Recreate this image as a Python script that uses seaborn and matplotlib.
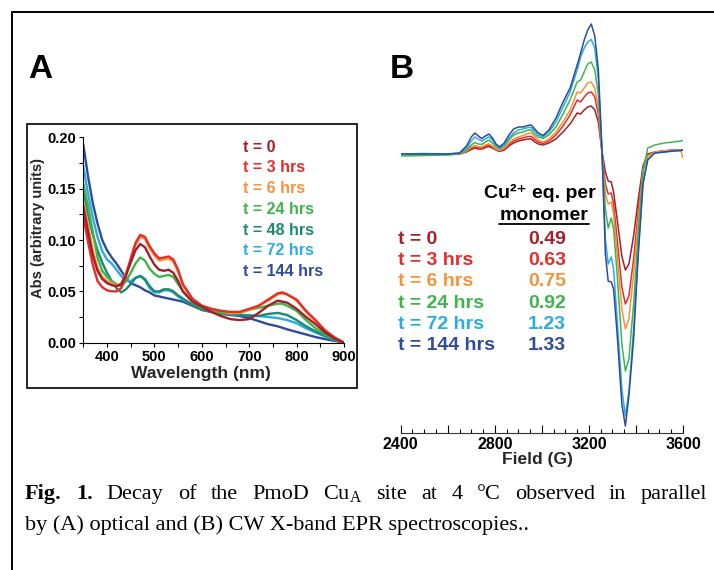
import matplotlib
matplotlib.use("Agg")
import numpy as np
import pandas as pd
import matplotlib.pyplot as plt
import seaborn as sns
from matplotlib.lines import Line2D
from matplotlib.patches import Rectangle
from matplotlib.ticker import MultipleLocator, FormatStrFormatter

# ---- panel A : optical spectra ----
wavelength = [350, 360, 370, 380, 390, 400, 410, 420, 430, 440, 450, 460, 470, 480, 490,
              500, 510, 520, 530, 540, 550, 560, 580, 600, 620, 640, 660, 680, 700, 720,
              740, 760, 770, 780, 800, 820, 840, 860, 880, 900]

abs_0 = [0.133, 0.108, 0.085, 0.070, 0.062, 0.058, 0.056, 0.055, 0.057, 0.066, 0.078, 0.090, 0.096, 0.093, 0.084,
         0.076, 0.071, 0.070, 0.071, 0.068, 0.060, 0.050, 0.040, 0.035, 0.030, 0.026, 0.023, 0.022, 0.023, 0.029,
         0.036, 0.041, 0.040, 0.039, 0.033, 0.025, 0.018, 0.010, 0.004, 0.0]
abs_3 = [0.124, 0.098, 0.076, 0.060, 0.054, 0.051, 0.050, 0.050, 0.053, 0.065, 0.082, 0.097, 0.105, 0.103, 0.094,
         0.087, 0.082, 0.083, 0.084, 0.081, 0.071, 0.057, 0.043, 0.036, 0.033, 0.031, 0.030, 0.030, 0.033, 0.036,
         0.042, 0.048, 0.049, 0.047, 0.042, 0.031, 0.022, 0.012, 0.005, 0.0]
abs_6 = [0.137, 0.114, 0.090, 0.073, 0.064, 0.060, 0.058, 0.056, 0.057, 0.068, 0.080, 0.095, 0.103, 0.101, 0.092,
         0.085, 0.080, 0.081, 0.082, 0.079, 0.069, 0.056, 0.042, 0.036, 0.033, 0.031, 0.029, 0.029, 0.032, 0.036,
         0.041, 0.047, 0.048, 0.047, 0.041, 0.030, 0.021, 0.012, 0.005, 0.0]
abs_24 = [0.155, 0.133, 0.108, 0.083, 0.070, 0.064, 0.060, 0.057, 0.055, 0.060, 0.068, 0.077, 0.083, 0.080, 0.072,
          0.067, 0.064, 0.065, 0.066, 0.064, 0.057, 0.050, 0.040, 0.034, 0.031, 0.029, 0.028, 0.029, 0.032, 0.034,
          0.036, 0.038, 0.038, 0.036, 0.031, 0.022, 0.014, 0.008, 0.003, 0.0]
abs_48 = [0.150, 0.125, 0.105, 0.090, 0.078, 0.068, 0.060, 0.053, 0.049, 0.052, 0.057, 0.063, 0.065, 0.062, 0.055,
          0.050, 0.050, 0.052, 0.052, 0.050, 0.046, 0.043, 0.037, 0.032, 0.030, 0.029, 0.028, 0.027, 0.026, 0.026,
          0.028, 0.029, 0.028, 0.027, 0.022, 0.016, 0.011, 0.007, 0.003, 0.0]
abs_72 = [0.172, 0.145, 0.122, 0.103, 0.089, 0.081, 0.077, 0.071, 0.065, 0.060, 0.060, 0.063, 0.065, 0.061, 0.053,
          0.049, 0.049, 0.051, 0.051, 0.049, 0.045, 0.042, 0.037, 0.033, 0.031, 0.029, 0.028, 0.027, 0.027, 0.026,
          0.025, 0.024, 0.023, 0.022, 0.019, 0.014, 0.010, 0.006, 0.003, 0.0]
abs_144 = [0.193, 0.162, 0.136, 0.116, 0.100, 0.090, 0.083, 0.077, 0.070, 0.063, 0.058, 0.056, 0.054, 0.051, 0.049,
           0.046, 0.045, 0.044, 0.043, 0.042, 0.041, 0.040, 0.036, 0.032, 0.030, 0.028, 0.027, 0.026, 0.024, 0.021,
           0.018, 0.016, 0.0145, 0.013, 0.0105, 0.008, 0.0055, 0.0035, 0.0018, 0.0]

labels_a = ["t = 0", "t = 3 hrs", "t = 6 hrs", "t = 24 hrs", "t = 48 hrs", "t = 72 hrs", "t = 144 hrs"]
series_a = [abs_0, abs_3, abs_6, abs_24, abs_48, abs_72, abs_144]

# ---- panel B : EPR spectra ----
field = [2400, 2500, 2600, 2650, 2680, 2700, 2715, 2730, 2745, 2760, 2775, 2790, 2805, 2820,
         2840, 2860, 2880, 2900, 2920, 2940, 2955, 2970, 2985, 3005, 3030, 3060, 3090, 3120,
         3150, 3165, 3180, 3195, 3210, 3225, 3240, 3255,
         3270, 3282, 3295, 3305, 3320, 3340, 3355, 3370, 3390, 3410, 3430, 3450,
         3480, 3520, 3560, 3590, 3600]

epr_0 = [0, 0, 0, 0, 2, 4.5, 6, 5, 5, 6.5, 7.5, 6, 4, 2.5,
         4, 8, 11, 13, 14, 15, 15, 12, 10, 9, 11, 15, 22, 30,
         41, 40, 44, 47, 48, 44, 32, 4,
         -18, -27, -28, -38, -65, -102, -116, -110, -82, -45, -12, 0,
         2, 3, 4, 4, 4]
epr_3 = [0, 0, 0, 0, 2.5, 5.5, 7, 6, 6, 8, 9, 7, 4.5, 3,
         5, 9.5, 13, 15, 16, 17.5, 17.5, 14.5, 12, 10.5, 13, 19, 28, 39,
         54, 52, 57, 61, 62, 57, 40, 3,
         -30, -40, -39, -50, -85, -133, -150, -142, -105, -57, -15, -1,
         2, 3, 4, 4, 4]
epr_6 = [0, 0, 0, 0, 3, 7, 8.5, 7.5, 7, 9, 10, 8, 5, 3.5,
         6, 11, 15, 17, 18.5, 20.5, 21, 17.5, 14, 12, 15, 22, 32, 44,
         62, 61, 66, 71, 72, 66, 47, 3,
         -40, -50, -48, -60, -100, -155, -175, -165, -120, -65, -17, -2,
         2, 3, 4, 4, -4]
epr_24 = [-2, -1.5, -1, 0, 4, 9, 11.5, 10, 9.5, 12, 14, 11, 7, 5,
          8, 14, 19, 21, 22, 24, 24, 20, 17, 15.5, 19, 27, 40, 54,
          72, 74, 82, 90, 92, 84, 60, 4,
          -55, -74, -64, -75, -120, -190, -217, -205, -150, -78, -18, 6,
          9, 11, 12, 13, 13.5]
epr_72 = [0, 0.5, 0, 1, 6, 13, 17, 15, 13, 15, 17, 14, 9, 6,
          9, 16, 21, 24, 25, 26.5, 26.5, 23, 19, 17, 22, 32, 47, 62,
          84, 97, 106, 112, 114.5, 106, 75, 6,
          -85, -110, -103, -115, -165, -235, -262, -238, -175, -95, -28, -5,
          1, 2, 3, 3.5, 4]
epr_144 = [0, 0, 0, 1, 8, 17, 21, 18, 15.5, 18, 20, 16, 10, 7,
           11, 19, 25, 27, 27, 28.5, 29, 25, 21, 18.5, 24, 36, 52, 66,
           89, 101, 114, 124, 130, 118, 85, 8,
           -100, -127, -128, -135, -180, -250, -272, -242, -185, -100, -30, -6,
           1, 2, 3, 3.5, 4]

labels_b = ["t = 0", "t = 3 hrs", "t = 6 hrs", "t = 24 hrs", "t = 72 hrs", "t = 144 hrs"]
series_b = [epr_0, epr_3, epr_6, epr_24, epr_72, epr_144]
cu_eq = ["0.49", "0.63", "0.75", "0.92", "1.23", "1.33"]

colors = {"t = 0": "#a3202a", "t = 3 hrs": "#e52d2b", "t = 6 hrs": "#f6923a",
          "t = 24 hrs": "#3fb44b", "t = 48 hrs": "#1b8a73", "t = 72 hrs": "#2aace2",
          "t = 144 hrs": "#2f4b9b"}

# caption, first line is justified word by word (bold flag per word)
caption_words = [("Fig.", True), ("1.", True), ("Decay", False), ("of", False), ("the", False),
                 ("PmoD", False), (r"Cu$_{\mathrm{A}}$", False), ("site", False), ("at", False),
                 ("4", False), ("°C", False), ("observed", False), ("in", False), ("parallel", False)]
caption_2 = "by (A) optical and (B) CW X-band EPR spectroscopies.."

sns.set_style("white")
plt.rcParams["font.family"] = ["Liberation Sans", "DejaVu Sans"]
plt.rcParams["mathtext.fontset"] = "custom"
plt.rcParams["mathtext.rm"] = "Liberation Serif"
plt.rcParams["text.color"] = "black"
plt.rcParams["axes.edgecolor"] = "black"
plt.rcParams["xtick.color"] = "black"
plt.rcParams["ytick.color"] = "black"

W, H = 714, 570
def fx(x):
    return x / W
def fy(y):
    return 1 - y / H

fig = plt.figure(figsize=(7.14, 5.70), dpi=100)

# frame lines of the figure
fig.add_artist(Line2D([fx(12), fx(714)], [fy(12), fy(12)], color="black", lw=1.4))
fig.add_artist(Line2D([fx(12), fx(12)], [fy(12), fy(570)], color="black", lw=1.4))
fig.add_artist(Rectangle((fx(27), fy(388)), fx(357) - fx(27), (388 - 124) / H,
                         fill=False, lw=1.2, ec="black", transform=fig.transFigure))

# ---- A ----
dfA = pd.concat([pd.DataFrame({"wavelength": wavelength, "abs": v, "time": k})
                 for k, v in zip(labels_a, series_a)], ignore_index=True)
axA = fig.add_axes([fx(83.3), fy(342.7), fx(344) - fx(83.3), (342.7 - 137.3) / H])
sns.lineplot(data=dfA, x="wavelength", y="abs", hue="time", hue_order=labels_a[::-1],
             palette=colors, estimator=None, sort=False, legend=False, linewidth=1.7, ax=axA)
axA.set_xlim(350, 900)
axA.set_ylim(0, 0.20)
axA.spines["top"].set_visible(False)
axA.spines["right"].set_visible(False)
axA.set_xticks([400, 500, 600, 700, 800, 900])
axA.xaxis.set_minor_locator(MultipleLocator(50))
axA.yaxis.set_major_locator(MultipleLocator(0.05))
axA.yaxis.set_minor_locator(MultipleLocator(0.025))
axA.yaxis.set_major_formatter(FormatStrFormatter("%.2f"))
axA.xaxis.set_major_formatter(FormatStrFormatter("%d"))
axA.tick_params(which="both", direction="out", length=3, width=0.8, left=True, bottom=True,
                labelsize=10.5, pad=2)
for lab in axA.get_xticklabels() + axA.get_yticklabels():
    lab.set_fontweight("bold")
axA.set_xlabel("Wavelength (nm)", fontsize=12.5, fontweight="bold")
axA.xaxis.set_label_coords(0.45, -0.112)
axA.set_ylabel("Abs (arbitrary units)", fontsize=10.5, fontweight="bold")
axA.yaxis.set_label_coords(-0.147, 0.56)

for i, lab in enumerate(labels_a):
    fig.text(fx(242.7), fy(147.3 + i * 20.7), lab, color=colors[lab], fontsize=11.5,
             fontweight="bold", ha="left", va="center")

# ---- B ----
dfB = pd.concat([pd.DataFrame({"field": field, "signal": v, "time": k})
                 for k, v in zip(labels_b, series_b)], ignore_index=True)
axB = fig.add_axes([fx(400.7), fy(433), fx(683) - fx(400.7), (433 - 15) / H])
sns.lineplot(data=dfB, x="field", y="signal", hue="time", hue_order=labels_b,
             palette=colors, estimator=None, sort=False, legend=False, linewidth=1.1, ax=axB)
axB.set_xlim(2400, 3600)
axB.set_ylim(-279, 139)
for s in ["top", "right", "left"]:
    axB.spines[s].set_visible(False)
axB.spines["bottom"].set_color("#333333")
axB.set_yticks([])
axB.xaxis.set_major_locator(MultipleLocator(200))
axB.xaxis.set_minor_locator(MultipleLocator(50))
axB.xaxis.set_major_formatter(lambda v, p: f"{int(v)}" if int(v) % 400 == 0 else "")
axB.tick_params(axis="x", which="major", direction="in", length=6, width=0.8, bottom=True,
                labelsize=11.5, pad=3)
axB.tick_params(axis="x", which="minor", direction="in", length=3, width=0.8, bottom=True)
for lab in axB.get_xticklabels():
    lab.set_fontweight("bold")
axB.set_xlabel("Field (G)", fontsize=12.5, fontweight="bold")
axB.xaxis.set_label_coords(0.483, -0.045)
axB.set_ylabel("")

fig.text(fx(540), fy(193), "Cu²⁺ eq. per", fontsize=14, fontweight="bold", ha="center", va="center")
fig.text(fx(544), fy(215), "monomer", fontsize=14, fontweight="bold", ha="center", va="center")
fig.add_artist(Line2D([fx(499), fx(589)], [fy(224), fy(224)], color="black", lw=1.3))
for i, (lab, val) in enumerate(zip(labels_b, cu_eq)):
    y = fy(239 + i * 21.4)
    fig.text(fx(398), y, lab, color=colors[lab], fontsize=14, fontweight="bold", ha="left", va="center")
    fig.text(fx(528), y, val, color=colors[lab], fontsize=14, fontweight="bold", ha="left", va="center")

# panel letters
fig.text(fx(28), fy(70), "A", fontsize=24, fontweight="bold", ha="left", va="center")
fig.text(fx(390), fy(70), "B", fontsize=24, fontweight="bold", ha="left", va="center")

# caption
cap_size = 16.0
x_start, x_end = 25, 707
word_texts = [fig.text(0, fy(499), w, fontsize=cap_size, family="Liberation Serif",
                       fontweight="bold" if b else "normal", ha="left", va="baseline")
              for w, b in caption_words]
renderer = fig.canvas.get_renderer()
widths = [t.get_window_extent(renderer).width for t in word_texts]
gap = (x_end - x_start - sum(widths)) / (len(word_texts) - 1)
x = x_start
for t, w in zip(word_texts, widths):
    t.set_x(fx(x))
    x += w + gap
fig.text(fx(x_start), fy(530), caption_2, fontsize=cap_size, family="Liberation Serif",
         ha="left", va="baseline")

fig.savefig("out.png", dpi=100)
